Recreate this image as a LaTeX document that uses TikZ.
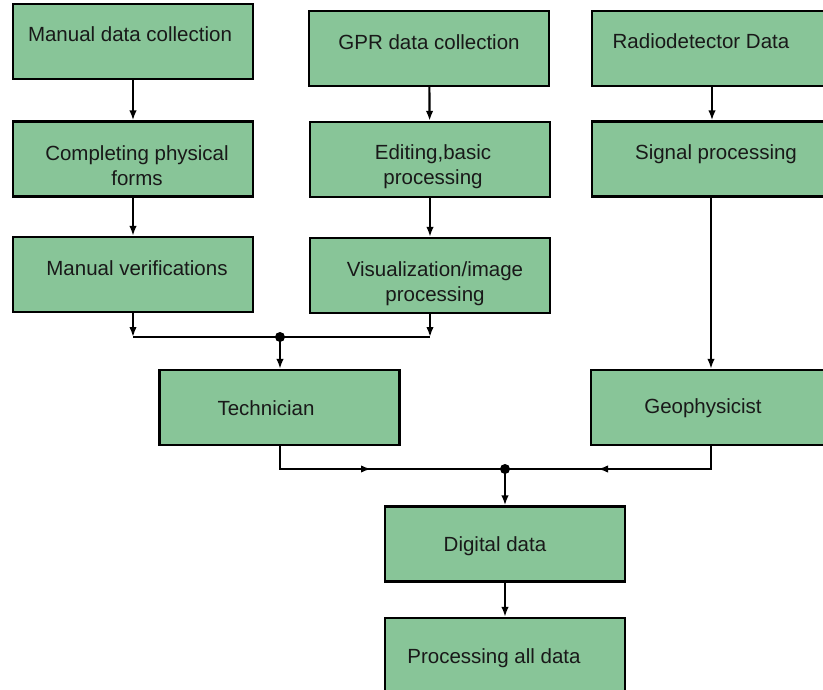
\documentclass[tikz,border=0pt]{standalone}
\usepackage{fontspec}
\setmainfont{Liberation Sans}
\usetikzlibrary{arrows.meta}
\definecolor{boxgreen}{RGB}{136,197,152}
\tikzset{
  x=1pt,y=-1pt,
  box/.style={draw=black,line width=2.3pt,fill=boxgreen,minimum width=240pt,minimum height=75pt,inner sep=0pt},
  lbl/.style={font=\fontsize{20.5}{25}\selectfont,inner sep=0pt,align=center,text=black!90},
  conn/.style={line width=2.2pt,-{Latex[length=10pt,width=7.5pt]}},
  plain/.style={line width=2.2pt},
  dot/.style={circle,fill=black,inner sep=0pt,minimum size=10pt}
}
\begin{document}
\begin{tikzpicture}
\useasboundingbox (0,0) rectangle (823,690);
\clip (0,0) rectangle (823,690);
% boxes
\node[box] (n1) at (133,41.5) {};
\node[box] (n2) at (429,48.5) {};
\node[box] (n3) at (712,48.5) {};
\node[box] (n4) at (133,159) {};
\node[box] (n5) at (430,159.5) {};
\node[box] (n6) at (712,159) {};
\node[box] (n7) at (133,274.5) {};
\node[box] (n8) at (430,275.5) {};
\node[box] (n9) at (279.5,407.5) {};
\node[box] (n10) at (711,407.5) {};
\node[box] (n11) at (505,544) {};
\node[box] (n12) at (505,655.5) {};
% labels
\node[lbl,anchor=base] (t1) at (130,42) {Manual data collection};
\node[lbl,anchor=base] (t2) at (429,50) {GPR data collection};
\node[lbl,anchor=base] (t3) at (701,49) {Radiodetector Data};
\node[lbl] (t4) at (137,166) {Completing physical\\forms};
\node[lbl] (t5) at (433,167) {Editing,basic\\processing};
\node[lbl,anchor=base] (t6) at (716,160) {Signal processing};
\node[lbl,anchor=base] (t7) at (137,276) {Manual verifications};
\node[lbl] (t8) at (435,284) {Visualization/image\\processing};
\node[lbl,anchor=base] (t9) at (266,415) {Technician};
\node[lbl,anchor=base] (t10) at (703,413) {Geophysicist};
\node[lbl,anchor=base] (t11) at (495,551) {Digital data};
\node[lbl,anchor=base] (t12) at (494,663) {Processing all data};
% junctions
\coordinate (h1) at (133,337);
\coordinate (h2) at (430,337);
\node[dot] (j1) at (280,337) {};
\node[dot] (j2) at (505,469) {};
\coordinate (a1) at (371,469);
\coordinate (a1b) at (366,469);
\coordinate (a2) at (598,469);
\coordinate (a2b) at (603,469);
% connectors
\draw[conn] (n1) -- (n4);
\draw[conn] (n2) -- (n5);
\draw[conn] (n3.south -| n6) -- (n6);
\draw[conn] (n4) -- (n7);
\draw[conn] (n5) -- (n8);
\draw[conn] (n6.south -| n10) -- (n10);
\draw[conn] (n7.south) -- (h1);
\draw[conn] (n8.south) -- (h2);
\draw[plain] (h1) -- (h2);
\draw[conn] (j1.center) -- (j1.center |- n9.north);
\draw[conn] (j1.center |- n9.south) |- (a1);
\draw[plain] (a1b) -- (j2.center);
\draw[conn] (n10.south) |- (a2);
\draw[plain] (a2b) -- (j2.center);
\draw[conn] (j2.center) -- (n11.north);
\draw[conn] (n11) -- (n12);
\end{tikzpicture}
\end{document}
